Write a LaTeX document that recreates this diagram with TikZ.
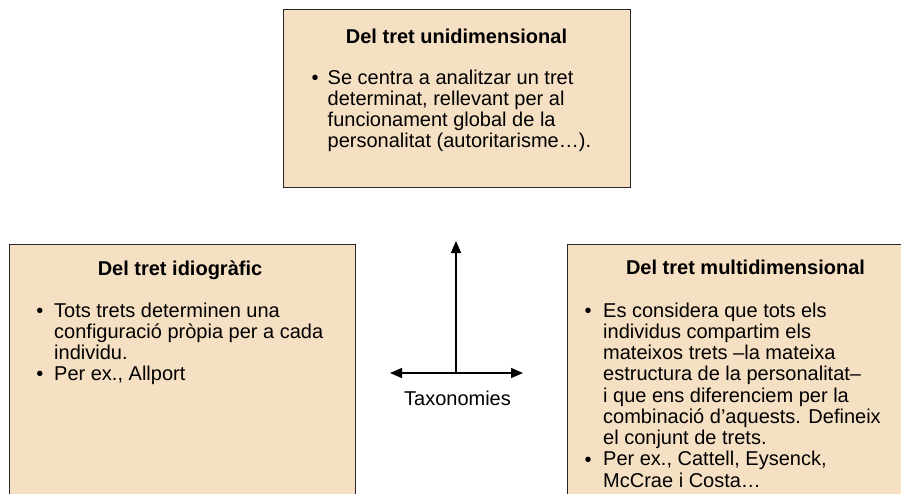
\documentclass[tikz,border=0pt]{standalone}
\usepackage{fontspec}
\setmainfont{Liberation Sans}
\usetikzlibrary{arrows.meta}
\definecolor{boxfill}{RGB}{245,224,195}
\definecolor{boxline}{RGB}{40,40,40}
\tikzset{
  box/.style={draw=boxline,fill=boxfill,line width=1.4pt,rectangle,inner sep=0pt},
  title/.style={font=\fontsize{20}{22}\selectfont\bfseries,anchor=base,inner sep=0pt},
  line/.style={font=\fontsize{20}{22}\selectfont,anchor=base west,inner sep=0pt},
  bul/.style={font=\fontsize{20}{22}\selectfont,anchor=base,inner sep=0pt},
  arr/.style={line width=1.4pt,-{Triangle[length=12pt,width=10pt]}}
}
\begin{document}
\begin{tikzpicture}[x=1pt,y=-1pt]
\useasboundingbox (0,0) rectangle (901,493);
\clip (0,0) rectangle (901,493);
% boxes
\node[box,minimum width=347pt,minimum height=178pt,anchor=north west] (top) at (283,9) {};
\node[box,minimum width=346.5pt,minimum height=270pt,anchor=north west] (left) at (8.5,244) {};
\node[box,minimum width=360pt,minimum height=270pt,anchor=north west] (right) at (567,244) {};
% top box
\node[title] (t1) at (456.5,43) {Del tret unidimensional};
\node[bul] (tb1) at (315,84) {\textbullet};
\foreach \t [count=\i] in {Se centra a analitzar un tret,{determinat, rellevant per al},funcionament global de la,personalitat (autoritarisme…).}
  \node[line] (tl\i) at (327.5,{84+(\i-1)*21.3}) {\t};
% left box
\node[title] (l1) at (180,275) {Del tret idiogràfic};
\node[bul] (lb1) at (40,317) {\textbullet};
\node[bul] (lb2) at (40,380) {\textbullet};
\foreach \t [count=\i] in {Tots trets determinen una,configuració pròpia per a cada,individu.,{Per ex., Allport}}
  \node[line] (ll\i) at (54,{317+(\i-1)*21}) {\t};
% right box
\node[title] (r1) at (745.5,274) {Del tret multidimensional};
\node[bul] (rb1) at (588,317) {\textbullet};
\node[bul] (rb2) at (588,466) {\textbullet};
\foreach \t [count=\i] in {Es considera que tots els,individus compartim els,mateixos trets –la mateixa,estructura de la personalitat–,i que ens diferenciem per la,combinació d’aquests. Defineix,el conjunt de trets.,{Per ex., Cattell, Eysenck,},McCrae i Costa…}
  \node[line] (rl\i) at (603,{317+(\i-1)*21.25}) {\t};
% axes
\coordinate (c) at (456,373);
\coordinate (up) at (456,241);
\coordinate (lt) at (390,373);
\coordinate (rt) at (523,373);
\draw[arr] (c) -- (up);
\draw[arr] (c) -- (lt);
\draw[arr] (c) -- (rt);
\node[font=\fontsize{20}{22}\selectfont,anchor=base,inner sep=0pt] (tax) at (457.5,405) {Taxonomies};
\end{tikzpicture}
\end{document}
